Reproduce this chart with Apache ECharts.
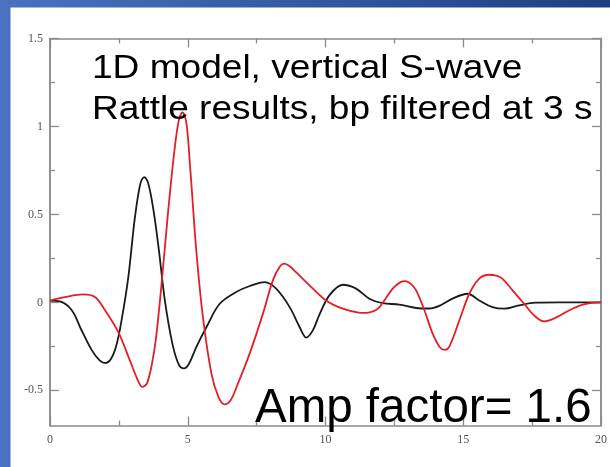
<!DOCTYPE html>
<html>
<head>
<meta charset="utf-8">
<script src="https://cdn.jsdelivr.net/npm/echarts@6/dist/echarts.min.js"></script>
<style>html,body{margin:0;padding:0;background:#fff;}#chart{width:610px;height:467px;}</style>
</head>
<body>
<div id="chart"></div>
<script>
// Time (s) and amplitude samples
const blackTime = [0, 0.36, 0.79, 1.15, 1.51, 1.8, 2.0, 2.2, 2.4, 2.6, 2.84, 3.08, 3.28, 3.42, 3.56, 3.75, 3.95, 4.17, 4.45, 4.68, 4.86, 5.04, 5.31, 5.68, 6.16, 6.76, 7.25, 7.79, 8.21, 8.7, 9.06, 9.3, 9.54, 9.78, 10.14, 10.63, 11.11, 11.59, 12.08, 12.68, 13.29, 13.77, 14.13, 14.61, 15.16, 15.58, 16.06, 16.49, 17.03, 17.63, 18.5, 20];
const blackAmp = [0.01, 0.005, -0.045, -0.16, -0.27, -0.33, -0.345, -0.325, -0.25, -0.10, 0.14, 0.48, 0.675, 0.712, 0.68, 0.53, 0.3, 0.01, -0.24, -0.355, -0.375, -0.35, -0.254, -0.14, -0.008, 0.059, 0.093, 0.115, 0.078, -0.027, -0.14, -0.2, -0.159, -0.07, 0.04, 0.1, 0.078, 0.021, -0.004, -0.013, -0.032, -0.035, -0.02, 0.021, 0.049, 0.011, -0.027, -0.036, -0.017, -0.002, 0, 0];
const redTime = [0, 0.54, 1.21, 1.63, 2.0, 2.48, 2.9, 3.18, 3.35, 3.52, 3.7, 3.85, 4.05, 4.29, 4.5, 4.67, 4.81, 4.95, 5.1, 5.31, 5.55, 5.86, 6.12, 6.34, 6.56, 6.8, 7.25, 7.73, 8.09, 8.35, 8.51, 8.7, 8.94, 9.42, 10.02, 10.63, 11.2, 11.47, 11.75, 11.96, 12.44, 12.72, 12.9, 13.1, 13.29, 13.59, 13.89, 14.15, 14.33, 14.5, 14.86, 15.22, 15.58, 15.94, 16.2, 16.42, 16.79, 17.21, 17.57, 17.93, 18.36, 18.96, 19.45, 20];
const redAmp = [0.01, 0.03, 0.045, 0.03, -0.045, -0.169, -0.33, -0.44, -0.48, -0.46, -0.35, -0.2, 0.106, 0.52, 0.84, 1.03, 1.08, 1.02, 0.74, 0.295, -0.083, -0.405, -0.54, -0.58, -0.555, -0.47, -0.29, -0.064, 0.125, 0.205, 0.22, 0.205, 0.17, 0.097, 0.011, -0.036, -0.058, -0.06, -0.05, -0.027, 0.078, 0.115, 0.121, 0.105, 0.068, -0.045, -0.178, -0.255, -0.27, -0.25, -0.102, 0.049, 0.135, 0.157, 0.152, 0.135, 0.068, -0.008, -0.074, -0.108, -0.087, -0.036, -0.008, 0];
const yMajorTicks = [-0.5, 0, 0.5, 1, 1.5];
const yMinorTicks = [-0.25, 0.25, 0.75, 1.25];
const titleLine1 = '1D model, vertical S-wave';
const titleLine2 = 'Rattle results, bp filtered at 3 s';
const ampLabel = 'Amp factor= 1.6';

const frameColor = '#8a8a8a';
const tickStyle = { color: frameColor, width: 1.3 };
const lineAxis = { show: true, onZero: false, lineStyle: { color: frameColor, width: 1.5 } };
const labelStyle = { fontFamily: 'Liberation Serif, DejaVu Serif, serif', fontSize: 12, color: '#555' };

function zip(a, b) { return a.map((v, i) => [v, b[i]]); }

function xAx(pos, showLabel) {
  return {
    type: 'value', min: 0, max: 20, interval: 5, position: pos,
    axisLine: lineAxis,
    axisTick: { show: true, inside: true, length: 9, lineStyle: tickStyle },
    minorTick: { show: true, splitNumber: 2, length: 5, lineStyle: tickStyle },
    axisLabel: Object.assign({ show: showLabel, margin: 8 }, labelStyle),
    splitLine: { show: false }, minorSplitLine: { show: false }
  };
}
function yAx(pos, ticks, len, showLabel) {
  return {
    type: 'value', min: -0.7, max: 1.5, position: pos,
    axisLine: lineAxis,
    axisTick: { show: true, inside: true, length: len, customValues: ticks, lineStyle: tickStyle },
    axisLabel: Object.assign({ show: showLabel, margin: 7, customValues: ticks }, labelStyle),
    splitLine: { show: false }
  };
}

const chart = echarts.init(document.getElementById('chart'), null, { renderer: 'canvas' });
chart.setOption({
  animation: false,
  backgroundColor: '#ffffff',
  grid: { left: 50, top: 38.5, right: 7.5, bottom: 41.5, containLabel: false },
  xAxis: [xAx('bottom', true), xAx('top', false)],
  yAxis: [
    yAx('left', yMajorTicks, 9, true),
    yAx('left', yMinorTicks, 5, false),
    yAx('right', yMajorTicks, 9, false),
    yAx('right', yMinorTicks, 5, false)
  ],
  series: [
    { type: 'line', xAxisIndex: 0, yAxisIndex: 0, data: zip(blackTime, blackAmp), smooth: 0.35, symbol: 'none', lineStyle: { color: '#1a1a1a', width: 1.8 }, z: 3 },
    { type: 'line', xAxisIndex: 0, yAxisIndex: 0, data: zip(redTime, redAmp), smooth: 0.35, symbol: 'none', lineStyle: { color: '#e41e26', width: 1.8 }, z: 4 }
  ],
  graphic: [
    { type: 'rect', left: 0, top: 0, shape: { width: 610, height: 7.5 }, z: 100,
      style: { fill: new echarts.graphic.LinearGradient(0, 0, 1, 0, [{ offset: 0, color: '#4b72c0' }, { offset: 1, color: '#1d3f85' }]) } },
    { type: 'rect', left: 0, top: 0, shape: { width: 10.5, height: 467 }, z: 100, style: { fill: '#4a71bf' } },
    { type: 'text', x: 92, y: 69, scaleX: 1.09, z: 50,
      style: { text: titleLine1, x: 0, y: 0, align: 'left', verticalAlign: 'middle', font: '34px "Liberation Sans", Arial, sans-serif', fill: '#000' } },
    { type: 'text', x: 92, y: 110, scaleX: 1.09, z: 50,
      style: { text: titleLine2, x: 0, y: 0, align: 'left', verticalAlign: 'middle', font: '34px "Liberation Sans", Arial, sans-serif', fill: '#000' } },
    { type: 'text', x: 255, y: 409, z: 50,
      style: { text: ampLabel, x: 0, y: 0, align: 'left', verticalAlign: 'middle', font: '47.5px "Liberation Sans", Arial, sans-serif', fill: '#000' } }
  ]
});
</script>
</body>
</html>
